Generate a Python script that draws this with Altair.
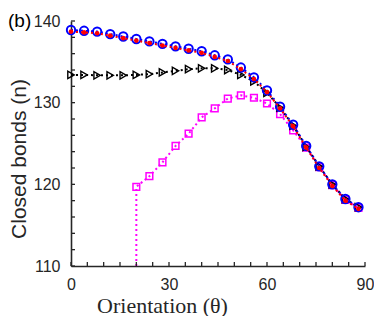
import altair as alt
import pandas as pd

# ---- data ----
theta = list(range(0, 89, 4))  # 0..88 deg
blue_vals = [138.9, 138.8, 138.7, 138.4, 138.1, 137.8, 137.5, 137.2, 136.9, 136.6, 136.3, 135.8,
             135.3, 134.3, 133.1, 131.5, 129.5, 127.3, 124.7, 122.2, 120.0, 118.2, 117.2]
red_vals = [138.7, 138.6, 138.5, 138.2, 137.9, 137.6, 137.3, 137.0, 136.7, 136.4, 136.1, 135.6,
            135.1, 134.1, 132.9, 131.3, 129.3, 127.1, 124.5, 122.0, 119.8, 118.0, 117.0]
black_vals = [133.4, 133.4, 133.35, 133.35, 133.35, 133.4, 133.5, 133.7, 133.9, 134.1, 134.2, 134.2,
              134.0, 133.4, 132.6, 131.2, 129.4, 127.2, 124.6, 122.2, 120.0, 118.2, 117.2]
magenta_theta = list(range(20, 89, 4))
magenta_vals = [119.7, 121.0, 122.7, 124.7, 126.2, 128.2, 129.3, 130.5, 130.9, 130.6, 129.9, 128.6,
                126.6, 124.5, 122.1, 119.9, 118.1, 117.1]
magenta_drop_theta = [20]
magenta_drop_vals = [110]

x_ticks = list(range(0, 91, 5))
y_ticks = list(range(110, 141, 2))
x_labels = [0, 30, 60, 90]
y_labels = [110, 120, 130, 140]

AX = "#262626"

xs = alt.Scale(domain=[0, 90], nice=False, zero=False)
ys = alt.Scale(domain=[110, 140], nice=False, zero=False)
xa = alt.Axis(values=x_labels, title="Orientation (θ)", ticks=False, grid=False,
              domainColor=AX, domainWidth=1.6, labelColor=AX, labelFont="Liberation Sans",
              labelFontSize=16, labelPadding=10, labelFlush=False,
              titleFont="Liberation Serif", titleFontSize=22, titleFontWeight="normal",
              titleColor=AX, titleX=91, titleY=46, titleBaseline="alphabetic", titleAlign="center")
ya = alt.Axis(values=y_labels, title=None, ticks=False, grid=False,
              domainColor=AX, domainWidth=1.6, labelColor=AX, labelFont="Liberation Sans",
              labelFontSize=16, labelPadding=11, labelFlush=False)


def X(f):
    return alt.X(f, type="quantitative", scale=xs, axis=xa)


def Y(f):
    return alt.Y(f, type="quantitative", scale=ys, axis=ya)


def series(th, vals, color, shape, size, filled, sw, line_th=None, line_vals=None):
    df = pd.DataFrame({"theta": th, "val": vals})
    ldf = df if line_th is None else pd.DataFrame({"theta": line_th, "val": line_vals})
    line = alt.Chart(ldf).mark_line(color=color, strokeDash=[2, 3], strokeWidth=2).encode(
        x=X("theta"), y=Y("val"), order="theta:Q")
    pts = alt.Chart(df).mark_point(shape=shape, size=size, filled=filled, color=color,
                                   strokeWidth=sw, opacity=1).encode(x=X("theta"), y=Y("val"))
    return [line, pts]


layers = []
layers += series(magenta_theta, magenta_vals, "#ff00ff", "square", 45, False, 1.5,
                 magenta_drop_theta + magenta_theta, magenta_drop_vals + magenta_vals)
layers += series(theta, black_vals, "#000000", "triangle-right", 55, False, 1.4)
layers += series(theta, blue_vals, "#0000ff", "circle", 70, False, 2)
layers += series(theta, red_vals, "#ff0000", "circle", 22, True, 0)

xt = alt.Chart(pd.DataFrame({"t": x_ticks})).mark_tick(
    orient="vertical", size=4, thickness=1.3, color=AX, yOffset=-2, opacity=1).encode(
    x=X("t"), y=alt.YDatum(110, scale=ys, axis=ya))
yt = alt.Chart(pd.DataFrame({"t": y_ticks})).mark_tick(
    orient="horizontal", size=4, thickness=1.3, color=AX, xOffset=2, opacity=1).encode(
    y=Y("t"), x=alt.XDatum(0, scale=xs, axis=xa))

ytitle = alt.Chart(pd.DataFrame({"label": ["Closed bonds (n)"]})).mark_text(
    angle=270, align="center", baseline="alphabetic", fontSize=21, font="Liberation Sans",
    color=AX).encode(text="label:N", x=alt.value(-45), y=alt.value(138))

panel = alt.Chart(pd.DataFrame({"label": ["(b)"]})).mark_text(
    align="left", baseline="alphabetic", fontSize=19, font="Liberation Sans", color="black").encode(
    text="label:N", x=alt.value(-63), y=alt.value(6))

chart = alt.layer(*layers, xt, yt, ytitle, panel).properties(
    width=294, height=245,
    autosize=alt.AutoSizeParams(type="none"),
    padding={"left": 63, "top": 13, "right": 9, "bottom": 50},
).configure_view(stroke=None)

chart.save("out.html", embed_options={"renderer": "svg", "actions": False})
